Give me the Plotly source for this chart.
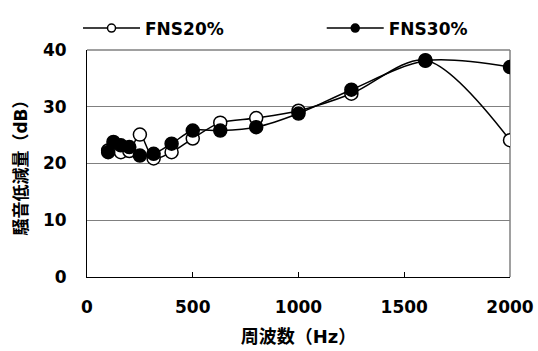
import plotly.graph_objects as go

# 1/3-octave band centre frequencies (Hz)
freq = [100, 125, 160, 200, 250, 315, 400, 500, 630, 800, 1000, 1250, 1600, 2000]

# Noise reduction (dB) for each mix
fns20 = [22.3, 23.0, 22.0, 22.2, 25.1, 20.9, 22.0, 24.4, 27.2, 28.0, 29.3, 32.3, 38.2, 24.1]
fns30 = [22.0, 23.8, 23.2, 22.9, 21.4, 21.7, 23.5, 25.8, 25.8, 26.4, 28.8, 33.0, 38.1, 37.0]

x_ticks = [0, 500, 1000, 1500, 2000]
y_ticks = [0, 10, 20, 30, 40]

FONT = "DejaVu Sans, Noto Sans CJK JP, sans-serif"
GRID = "#808080"

fig = go.Figure()

series = [
    ("FNS20%", fns20, "white", "legend"),
    ("FNS30%", fns30, "black", "legend2"),
]

for name, vals, fill, _ in series:
    # data trace
    fig.add_trace(go.Scatter(
        x=freq, y=vals, mode="lines+markers", name=name, showlegend=False,
        line=dict(color="black", width=1.5, shape="spline", smoothing=0.9),
        marker=dict(symbol="circle", size=13, color=fill,
                    line=dict(color="black", width=1.5)),
        hoverinfo="x+y",
    ))

for name, vals, fill, leg in series:
    # legend entry with a smaller marker
    fig.add_trace(go.Scatter(
        x=[None], y=[None], mode="lines+markers", name=name, legend=leg,
        line=dict(color="black", width=1.5),
        marker=dict(symbol="circle", size=8, color=fill,
                    line=dict(color="black", width=1.5)),
    ))

legend_style = dict(
    orientation="h", xref="container", yref="container",
    y=0.97, xanchor="left", yanchor="top", itemwidth=57,
    font=dict(family=FONT, size=17, color="black", weight="bold"),
    bgcolor="rgba(0,0,0,0)",
)

fig.update_layout(
    width=538, height=351,
    margin=dict(l=87, r=28, t=50, b=74, autoexpand=False),
    paper_bgcolor="white", plot_bgcolor="white",
    font=dict(family=FONT, size=17, color="black", weight="bold"),
    showlegend=True,
    legend=dict(x=0.145, **legend_style),
    legend2=dict(x=0.598, **legend_style),
    xaxis=dict(
        range=[0, 2000], tickvals=x_ticks, ticktext=[str(v) for v in x_ticks],
        showgrid=False, zeroline=False,
        showline=True, linecolor="black", linewidth=1,
        ticks="inside", ticklen=5, tickcolor="black",
        ticklabelstandoff=15,
        title=dict(text="周波数（Hz）", standoff=13,
                   font=dict(family=FONT, size=18, weight="bold")),
    ),
    yaxis=dict(
        range=[0, 40], tickvals=y_ticks, ticktext=[str(v) for v in y_ticks],
        showgrid=True, gridcolor=GRID, gridwidth=1, zeroline=False,
        showline=True, linecolor="black", linewidth=1,
        ticks="", ticklabelstandoff=16,
        title=dict(text="騒音低減量（dB）", standoff=10,
                   font=dict(family=FONT, size=17, weight="bold")),
    ),
    shapes=[
        dict(type="line", xref="paper", yref="paper", x0=1, x1=1, y0=0, y1=1,
             line=dict(color=GRID, width=1.5), layer="below"),
        dict(type="line", xref="paper", yref="paper", x0=0, x1=1, y0=1, y1=1,
             line=dict(color=GRID, width=1.5), layer="below"),
    ],
)

fig.write_html("out.html")
